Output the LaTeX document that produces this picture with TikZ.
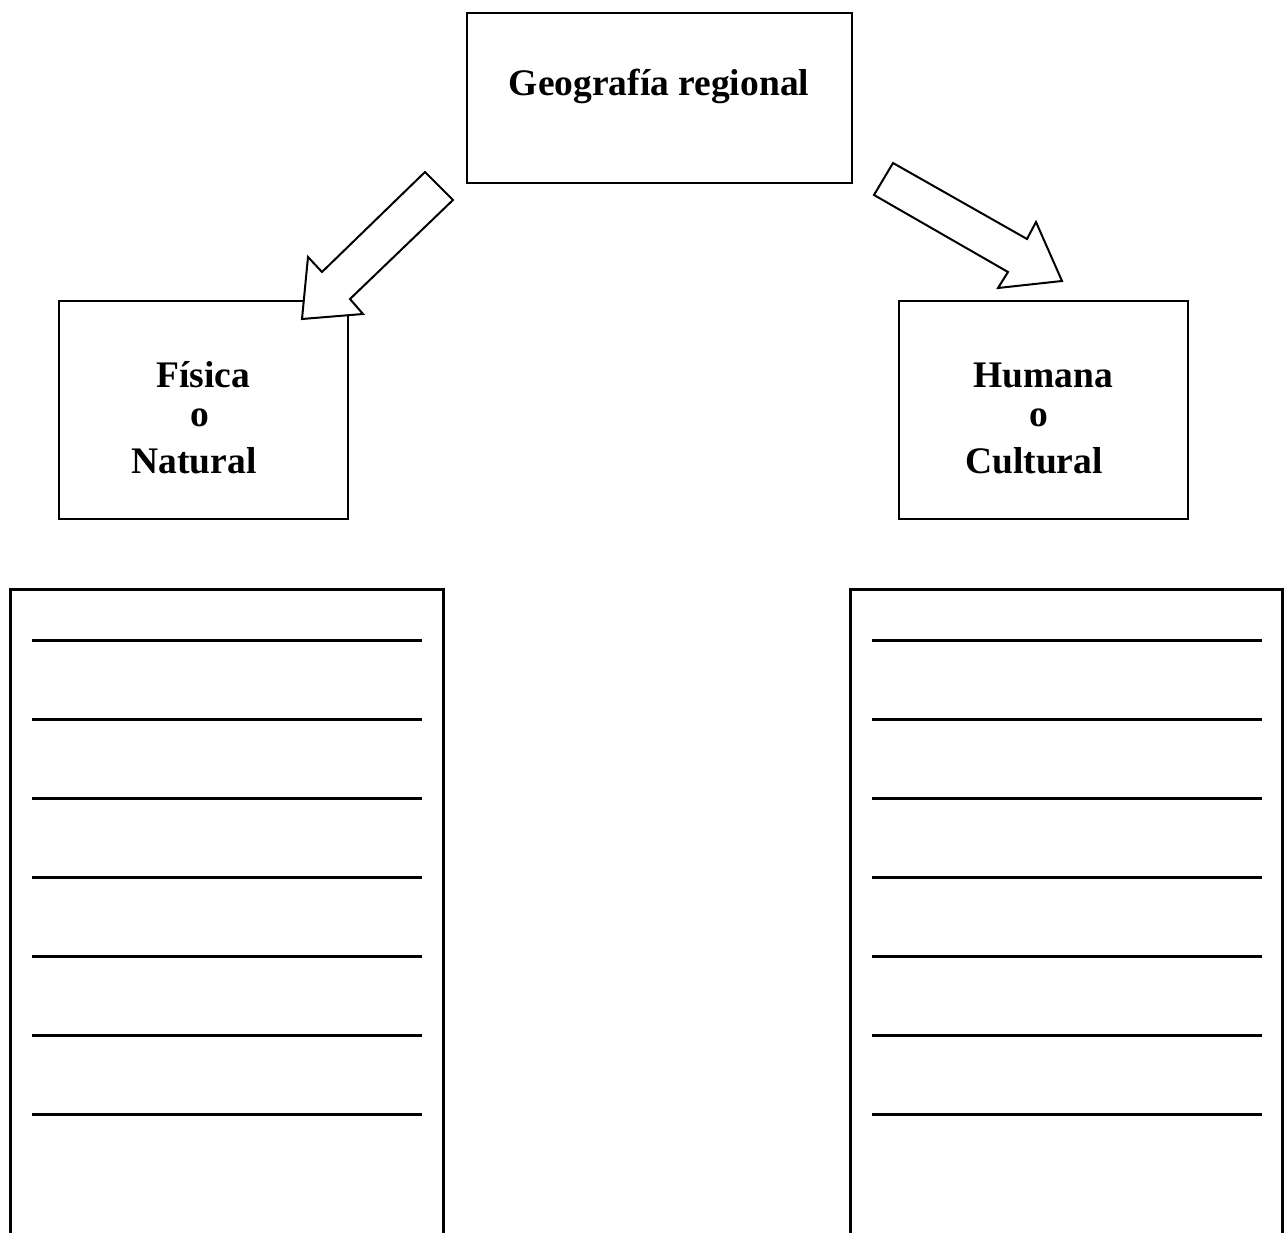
\documentclass[tikz,border=0pt]{standalone}
\usepackage{fontspec}
\setmainfont{Liberation Serif}
\begin{document}
\begin{tikzpicture}[x=1pt,y=-1pt,
  box/.style={draw,line width=2pt,fill=white},
  tallbox/.style={line width=3pt},
  fatarrow/.style={draw,line width=2pt,fill=white,line join=miter},
  rule/.style={line width=3pt},
  lbl/.style={font=\bfseries\fontsize{37.5}{43}\selectfont,align=center}]
\useasboundingbox (0,0) rectangle (1288,1233);
% top box
\node[box,minimum width=385pt,minimum height=170pt,anchor=north west] (top) at (466,12) {};
\node[lbl] (toptxt) at (659,86) {Geografía regional};
% small boxes
\node[box,minimum width=289pt,minimum height=218pt,anchor=north west] (fis) at (58,300) {};
\node[box,minimum width=289pt,minimum height=218pt,anchor=north west] (hum) at (898,300) {};
\node[lbl] (fis1) at (203,375) {Física};
\node[lbl] (fis2) at (200,418) {o};
\node[lbl] (fis3) at (194,461) {Natural};
\node[lbl] (hum1) at (1043,375) {Humana};
\node[lbl] (hum2) at (1039,418) {o};
\node[lbl] (hum3) at (1034,461) {Cultural};
% block arrows
\draw[fatarrow] (425,172) -- (453,200) -- (350,299) -- (363,314) -- (302,319) -- (308,257) -- (322,272) -- cycle;
\draw[fatarrow] (893,163) -- (874,195) -- (1008,272) -- (998,288) -- (1062,281) -- (1036,222) -- (1027,239) -- cycle;
% tall boxes open at the bottom
\coordinate (lb1) at (10,1240);
\coordinate (lb2) at (443,1240);
\coordinate (rb1) at (850,1240);
\coordinate (rb2) at (1282,1240);
\draw[tallbox,line join=miter] (lb1) -- (10,589) -- (443,589) -- (lb2);
\draw[tallbox,line join=miter] (rb1) -- (850,589) -- (1282,589) -- (rb2);
% writing lines
\foreach \y in {640,719,798,877,956,1035,1114}{
  \draw[rule] (32,\y) -- (422,\y);
  \draw[rule] (872,\y) -- (1262,\y);
}
\end{tikzpicture}
\end{document}
